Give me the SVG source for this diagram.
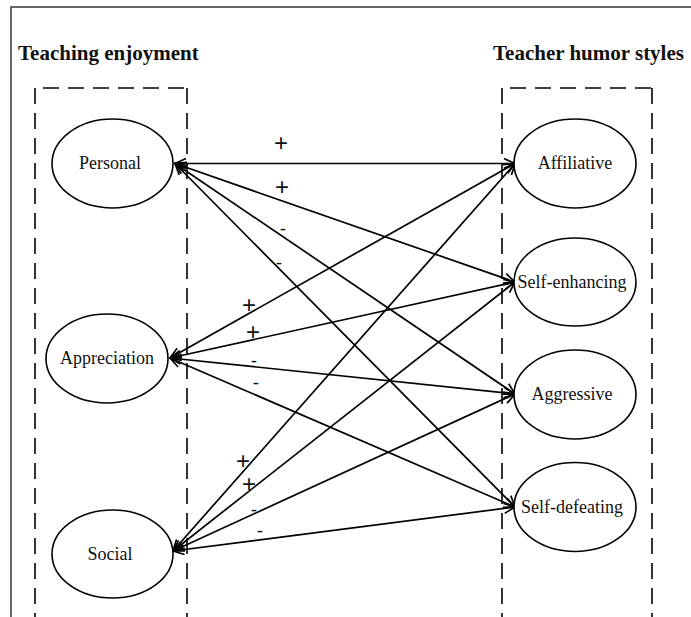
<svg xmlns="http://www.w3.org/2000/svg" width="691" height="617" viewBox="0 0 691 617">
<style>
.title{font-family:"Liberation Serif","Times New Roman",serif;font-weight:bold;font-size:21px;fill:#111}
.lbl{font-family:"Liberation Serif","Times New Roman",serif;font-size:18px;fill:#111;text-anchor:middle}
.sign{font-family:"Liberation Sans",Arial,sans-serif;font-size:24px;fill:#111;text-anchor:middle}
.minus{font-family:"Liberation Sans",Arial,sans-serif;font-size:19px;fill:#111;text-anchor:middle}
.node{fill:#fff;stroke:#000;stroke-width:1.6}
.dash{fill:none;stroke:#000;stroke-width:1.6;stroke-dasharray:16 9}
.conn line{stroke:#000;stroke-width:1.7;marker-start:url(#ah);marker-end:url(#ah)}
</style>
<defs>
<marker id="ah" markerUnits="userSpaceOnUse" markerWidth="13" markerHeight="13" viewBox="0 0 13 13" refX="12" refY="6.5" orient="auto-start-reverse">
<path d="M1,1.5 L12,6.5 L1,11.5" fill="none" stroke="#000" stroke-width="1.7"/>
</marker>
</defs>
<rect width="691" height="617" fill="#fff"/>
<path d="M11,617 V7 H691" fill="none" stroke="#333" stroke-width="1.5"/>
<text class="title" x="18" y="60">Teaching enjoyment</text>
<text class="title" x="493" y="60">Teacher humor styles</text>
<g id="box-left">
<path class="dash" d="M35,88 V617"/>
<path class="dash" d="M187,88 V617"/>
<path class="dash" d="M43,88 H187"/>
</g>
<g id="box-right">
<path class="dash" d="M502,88 V617"/>
<path class="dash" d="M652,88 V617"/>
<path class="dash" d="M510,88 H652"/>
</g>
<g class="conn" id="connectors">
<line x1="175" y1="163.5" x2="515" y2="163.5"/>
<line x1="175" y1="163.5" x2="515" y2="282"/>
<line x1="175" y1="163.5" x2="515" y2="394"/>
<line x1="175" y1="163.5" x2="515" y2="507"/>
<line x1="170" y1="358" x2="515" y2="163.5"/>
<line x1="170" y1="358" x2="515" y2="282"/>
<line x1="170" y1="358" x2="515" y2="394"/>
<line x1="170" y1="358" x2="515" y2="507"/>
<line x1="173" y1="551" x2="515" y2="163.5"/>
<line x1="173" y1="551" x2="515" y2="282"/>
<line x1="173" y1="551" x2="515" y2="394"/>
<line x1="173" y1="551" x2="515" y2="507"/>
</g>
<g id="signs">
<text class="sign" x="281" y="150.5">+</text>
<text class="sign" x="282" y="194.5">+</text>
<text class="minus" x="283" y="234.5">-</text>
<text class="minus" x="279" y="268.5">-</text>
<text class="sign" x="249" y="312.5">+</text>
<text class="sign" x="253" y="339.5">+</text>
<text class="minus" x="254" y="366.5">-</text>
<text class="minus" x="256" y="388.5">-</text>
<text class="sign" x="243" y="468.5">+</text>
<text class="sign" x="249" y="491.5">+</text>
<text class="minus" x="254" y="515.5">-</text>
<text class="minus" x="260" y="536.5">-</text>
</g>
<g id="n-personal"><ellipse class="node" cx="112.5" cy="163.5" rx="60.5" ry="44.5"/><text class="lbl" x="110" y="169">Personal</text></g>
<g id="n-appreciation"><ellipse class="node" cx="107" cy="358.5" rx="61" ry="44.5"/><text class="lbl" x="107" y="364">Appreciation</text></g>
<g id="n-social"><ellipse class="node" cx="112.5" cy="554" rx="60.5" ry="44"/><text class="lbl" x="110" y="560">Social</text></g>
<g id="n-affiliative"><ellipse class="node" cx="575" cy="163.5" rx="61" ry="44.5"/><text class="lbl" x="575" y="169">Affiliative</text></g>
<g id="n-selfenh"><ellipse class="node" cx="575" cy="282" rx="61" ry="44"/><text class="lbl" x="572" y="288">Self-enhancing</text></g>
<g id="n-aggressive"><ellipse class="node" cx="575" cy="394.5" rx="61" ry="44.5"/><text class="lbl" x="572" y="400">Aggressive</text></g>
<g id="n-selfdef"><ellipse class="node" cx="575" cy="507" rx="61" ry="44.5"/><text class="lbl" x="572" y="513">Self-defeating</text></g>
</svg>
